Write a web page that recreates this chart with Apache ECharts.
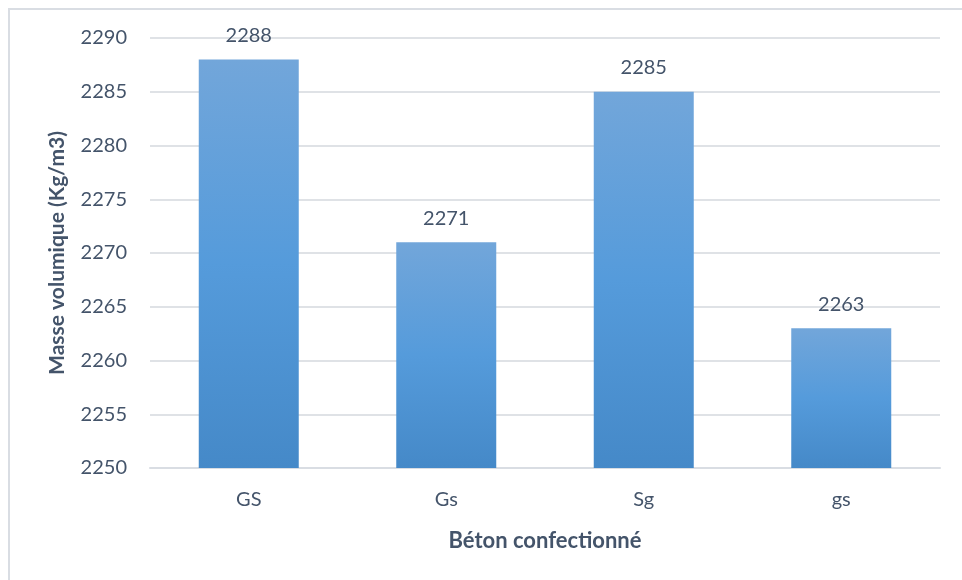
<!DOCTYPE html>
<html>
<head>
<meta charset="utf-8">
<script src="https://cdn.jsdelivr.net/npm/echarts@6/dist/echarts.min.js"></script>
<style>
  html, body { margin: 0; padding: 0; background: #fff; }
  #chart { width: 962px; height: 580px; }
</style>
</head>
<body>
<div id="chart"></div>
<script>
// Béton mixes and their measured bulk density
const categories = ['GS', 'Gs', 'Sg', 'gs'];
const densities = [2288, 2271, 2285, 2263];
const yTicks = { min: 2250, max: 2290, interval: 5 };

const textColor = '#44546a';
const fontFamily = 'Lato, "Open Sans", sans-serif';

const chart = echarts.init(document.getElementById('chart'), null, { renderer: 'canvas' });

chart.setOption({
  animation: false,
  backgroundColor: '#ffffff',
  graphic: [{
    type: 'rect',
    shape: { x: 9, y: 9, width: 980, height: 600 },
    style: { fill: 'none', stroke: '#d9dde3', lineWidth: 2 },
    silent: true
  }],
  grid: { left: 150, right: 22, top: 38, bottom: 112 },
  xAxis: {
    type: 'category',
    data: categories,
    name: 'Béton confectionné',
    nameLocation: 'middle',
    nameGap: 62,
    nameTextStyle: { color: textColor, fontSize: 22, fontWeight: 'bold', fontFamily },
    axisLine: { show: true, lineStyle: { color: '#d9dde3', width: 2 } },
    axisTick: { show: false },
    axisLabel: { color: textColor, fontSize: 20, margin: 22, fontFamily }
  },
  yAxis: {
    type: 'value',
    min: yTicks.min,
    max: yTicks.max,
    interval: yTicks.interval,
    name: 'Masse volumique (Kg/m3)',
    nameLocation: 'middle',
    nameGap: 82,
    nameRotate: 90,
    nameTextStyle: { color: textColor, fontSize: 21, fontWeight: 'bold', fontFamily },
    axisLine: { show: false },
    axisTick: { show: false },
    splitLine: { lineStyle: { color: '#dfe2e6', width: 2 } },
    axisLabel: { color: textColor, fontSize: 20, margin: 23, fontFamily, formatter: v => String(v) }
  },
  series: [{
    type: 'bar',
    data: densities,
    barWidth: 100,
    itemStyle: {
      color: new echarts.graphic.LinearGradient(0, 0, 0, 1, [
        { offset: 0, color: '#72a6da' },
        { offset: 0.5, color: '#559bdb' },
        { offset: 1, color: '#4589c8' }
      ])
    },
    label: {
      show: true,
      position: 'top',
      distance: 14,
      color: textColor,
      fontSize: 20,
      fontFamily,
      formatter: p => String(p.value)
    }
  }]
});
</script>
</body>
</html>
